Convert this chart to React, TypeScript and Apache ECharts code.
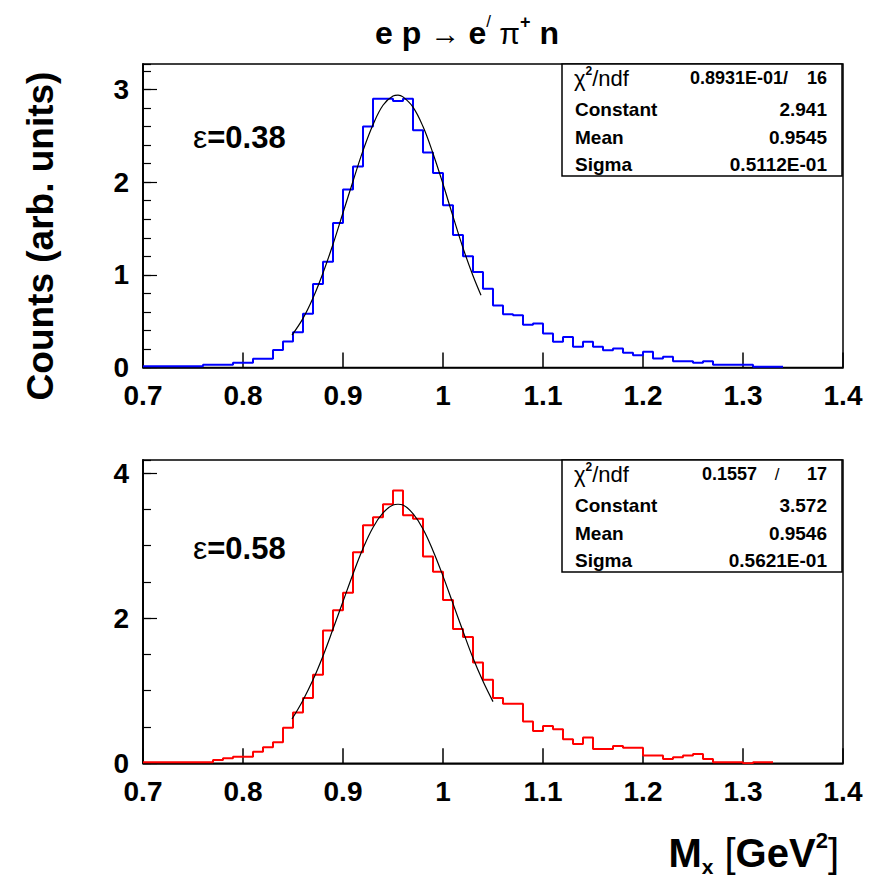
import React, { useEffect, useRef } from 'react';
import * as echarts from 'echarts';

const FONT = '"Liberation Sans", Arial, Helvetica, sans-serif';

// histogram bins: width 0.01 starting at 0.70
const BIN_START = 0.7;
const BIN_WIDTH = 0.01;

// epsilon = 0.38 (blue), bins 0.70 ... 1.33
const topCounts = [
  0.014, 0.014, 0.014, 0.014, 0.014, 0.014, 0.03, 0.03, 0.03, 0.05,
  0.05, 0.095, 0.095, 0.19, 0.28, 0.38, 0.58, 0.9, 1.14, 1.56,
  1.92, 2.17, 2.6, 2.9, 2.9, 2.875, 2.9, 2.56, 2.32, 2.1,
  1.75, 1.43, 1.2, 1.03, 0.85, 0.67, 0.575, 0.565, 0.46, 0.475,
  0.367, 0.277, 0.33, 0.223, 0.277, 0.223, 0.187, 0.205, 0.158, 0.133,
  0.169, 0.097, 0.115, 0.068, 0.068, 0.05, 0.068, 0.029, 0.029, 0.029,
  0.029, 0.007, 0.007, 0.007,
];

// epsilon = 0.58 (red), bins 0.70 ... 1.32
const bottomCounts = [
  0.014, 0.014, 0.014, 0.014, 0.014, 0.014, 0.014, 0.046, 0.07, 0.09,
  0.09, 0.16, 0.22, 0.29, 0.49, 0.7, 0.9, 1.22, 1.83, 2.11,
  2.35, 2.91, 3.28, 3.39, 3.57, 3.76, 3.42, 3.37, 2.85, 2.64,
  2.25, 1.85, 1.74, 1.39, 1.15, 0.9, 0.82, 0.82, 0.575, 0.446,
  0.515, 0.47, 0.33, 0.267, 0.354, 0.198, 0.198, 0.239, 0.216, 0.216,
  0.106, 0.106, 0.06, 0.083, 0.106, 0.129, 0.06, 0.014, 0.014, 0.014,
  0, 0.014, 0.014,
];

// fitted curves
const topFitX = [0.849, 0.86, 0.87, 0.88, 0.89, 0.9, 0.91, 0.92, 0.93, 0.94, 0.95, 0.955, 0.96, 0.97, 0.98, 0.99, 1.0, 1.01, 1.02, 1.03, 1.038];
const topFitY = [0.35, 0.53, 0.75, 1.02, 1.33, 1.67, 2.01, 2.34, 2.62, 2.83, 2.93, 2.94, 2.92, 2.81, 2.6, 2.31, 1.98, 1.63, 1.29, 0.99, 0.78];
const bottomFitX = [0.849, 0.86, 0.87, 0.88, 0.89, 0.9, 0.91, 0.92, 0.93, 0.94, 0.95, 0.955, 0.96, 0.97, 0.98, 0.99, 1.0, 1.01, 1.02, 1.03, 1.04, 1.05];
const bottomFitY = [0.61, 0.87, 1.15, 1.48, 1.85, 2.23, 2.61, 2.96, 3.25, 3.45, 3.56, 3.57, 3.56, 3.44, 3.23, 2.93, 2.58, 2.2, 1.82, 1.45, 1.13, 0.85];

const topStats = [
  ['Constant', '2.941'],
  ['Mean', '0.9545'],
  ['Sigma', '0.5112E-01'],
];
const bottomStats = [
  ['Constant', '3.572'],
  ['Mean', '0.9546'],
  ['Sigma', '0.5621E-01'],
];

function histData(counts: number[]) {
  const d: number[][] = counts.map((v, i) => [Number((BIN_START + i * BIN_WIDTH).toFixed(3)), v]);
  d.push([Number((BIN_START + counts.length * BIN_WIDTH).toFixed(3)), counts[counts.length - 1]]);
  return d;
}

function zip(xs: number[], ys: number[]) {
  return xs.map((x, i) => [x, ys[i]]);
}

function makeX(gridIndex: number) {
  return {
    type: 'value', gridIndex, min: 0.7, max: 1.4, interval: 0.1,
    axisLine: { show: true, lineStyle: { color: '#000', width: 1.5 } },
    axisTick: { show: true, inside: true, length: 15, lineStyle: { color: '#000', width: 1.5 } },
    axisLabel: { show: true, color: '#000', fontFamily: FONT, fontWeight: 'bold', fontSize: 28, margin: 14, showMinLabel: true, showMaxLabel: true },
    splitLine: { show: false },
  };
}

function makeY(gridIndex: number, max: number, interval: number, len: number, labels: boolean) {
  return {
    type: 'value', gridIndex, min: 0, max, interval, position: 'left',
    axisLine: { show: true, onZero: false, lineStyle: { color: '#000', width: 1.5 } },
    axisTick: { show: true, inside: true, length: len, lineStyle: { color: '#000', width: 1.2 } },
    axisLabel: { show: labels, color: '#000', fontFamily: FONT, fontWeight: 'bold', fontSize: 28, margin: 14, showMaxLabel: false, showMinLabel: true },
    splitLine: { show: false },
  };
}

function statBox(top: number, chiVal: string, ndfSlash: string, ndf: string, rows: string[][]) {
  const left = 562;
  const right = 842;
  const h = 112;
  const F = `bold 19px ${FONT}`;
  const els: any[] = [
    { type: 'rect', shape: { x: left, y: top, width: right - left, height: h }, style: { fill: '#fff', stroke: '#000', lineWidth: 1.5 }, z: 10 },
    {
      type: 'text', x: 574, y: top + 14, z: 11,
      style: {
        text: '{r|χ}{s|2}{r|/ndf}', textVerticalAlign: 'middle', fill: '#000',
        rich: {
          r: { fontFamily: FONT, fontSize: 22, fill: '#000', verticalAlign: 'middle', lineHeight: 26 },
          s: { fontFamily: FONT, fontSize: 12, fontWeight: 'bold', fill: '#000', verticalAlign: 'top', lineHeight: 26 },
        },
      },
    },
    { type: 'text', x: ndfSlash === '/' ? 757 : 788, y: top + 14, z: 11, style: { text: chiVal, font: `bold 18px ${FONT}`, fill: '#000', textAlign: 'right', textVerticalAlign: 'middle' } },
    { type: 'text', x: 827, y: top + 14, z: 11, style: { text: ndf, font: `bold 18px ${FONT}`, fill: '#000', textAlign: 'right', textVerticalAlign: 'middle' } },
  ];
  if (ndfSlash === '/') {
    els.push({ type: 'text', x: 777, y: top + 14, z: 11, style: { text: '/', font: `17px ${FONT}`, fill: '#000', textAlign: 'center', textVerticalAlign: 'middle' } });
  }
  const ys = [top + 45, top + 73, top + 100];
  rows.forEach((r, i) => {
    els.push({ type: 'text', x: 575, y: ys[i], z: 11, style: { text: r[0], font: F, fill: '#000', textAlign: 'left', textVerticalAlign: 'middle' } });
    els.push({ type: 'text', x: 827, y: ys[i], z: 11, style: { text: r[1], font: F, fill: '#000', textAlign: 'right', textVerticalAlign: 'middle' } });
  });
  return els;
}

function epsLabel(y: number, val: string) {
  return {
    type: 'text', x: 193, y, z: 11,
    style: {
      text: `{r|ε}{b|=${val}}`, textVerticalAlign: 'middle', fill: '#000',
      rich: {
        r: { fontFamily: FONT, fontSize: 32, fill: '#000', lineHeight: 36 },
        b: { fontFamily: FONT, fontSize: 31, fontWeight: 'bold', fill: '#000', lineHeight: 36 },
      },
    },
  };
}

export default function App() {
  const ref = useRef<HTMLDivElement>(null);
  useEffect(() => {
    document.body.style.margin = '0';
    if (!ref.current) return;
    const chart = echarts.init(ref.current, null, { renderer: 'svg' });
    const option: any = {
      animation: false,
      backgroundColor: '#fff',
      grid: [
        { left: 143, top: 64, width: 700, height: 303.5, show: true, borderColor: '#000', borderWidth: 1.5, backgroundColor: 'transparent' },
        { left: 143, top: 460, width: 700, height: 303.3, show: true, borderColor: '#000', borderWidth: 1.5, backgroundColor: 'transparent' },
      ],
      xAxis: [makeX(0), makeX(1)],
      yAxis: [
        makeY(0, 3.275, 1, 14, true),
        makeY(0, 3.275, 0.2, 8, false),
        makeY(1, 4.18, 2, 14, true),
        makeY(1, 4.18, 0.5, 8, false),
      ],
      series: [
        { type: 'line', xAxisIndex: 0, yAxisIndex: 0, step: 'end', symbol: 'none', data: histData(topCounts), lineStyle: { color: '#0000ff', width: 2 }, z: 3 },
        { type: 'line', xAxisIndex: 0, yAxisIndex: 0, smooth: 0.4, symbol: 'none', data: zip(topFitX, topFitY), lineStyle: { color: '#000', width: 1.2 }, z: 4 },
        { type: 'line', xAxisIndex: 1, yAxisIndex: 2, step: 'end', symbol: 'none', data: histData(bottomCounts), lineStyle: { color: '#ff0000', width: 2 }, z: 3 },
        { type: 'line', xAxisIndex: 1, yAxisIndex: 2, smooth: 0.4, symbol: 'none', data: zip(bottomFitX, bottomFitY), lineStyle: { color: '#000', width: 1.2 }, z: 4 },
      ],
      graphic: [
        {
          type: 'text', x: 467, y: 33,
          style: {
            text: '{b|e p }{r|→ }{b|e}{p|/}{r| π}{s|+}{b| n}', textAlign: 'center', textVerticalAlign: 'middle', fill: '#000',
            rich: {
              b: { fontFamily: FONT, fontSize: 32, fontWeight: 'bold', fill: '#000', lineHeight: 40 },
              r: { fontFamily: FONT, fontSize: 30, fill: '#000', lineHeight: 40 },
              p: { fontFamily: FONT, fontSize: 17, fill: '#000', lineHeight: 40, verticalAlign: 'top' },
              s: { fontFamily: FONT, fontSize: 18, fontWeight: 'bold', fill: '#000', lineHeight: 40, verticalAlign: 'top' },
            },
          },
        },
        {
          type: 'text', x: 40, y: 236, rotation: Math.PI / 2,
          style: { text: 'Counts (arb. units)', font: `bold 37px ${FONT}`, fill: '#000', textAlign: 'center', textVerticalAlign: 'middle' },
        },
        {
          type: 'text', x: 839, y: 853,
          style: {
            text: '{b|M}{x|x}{r| [}{b|GeV}{s|2}{r|]}', textAlign: 'right', textVerticalAlign: 'middle', fill: '#000',
            rich: {
              b: { fontFamily: FONT, fontSize: 40, fontWeight: 'bold', fill: '#000', lineHeight: 48 },
              r: { fontFamily: FONT, fontSize: 40, fill: '#000', lineHeight: 48 },
              x: { fontFamily: FONT, fontSize: 21, fontWeight: 'bold', fill: '#000', lineHeight: 48, verticalAlign: 'bottom' },
              s: { fontFamily: FONT, fontSize: 22, fontWeight: 'bold', fill: '#000', lineHeight: 48, verticalAlign: 'top' },
            },
          },
        },
        epsLabel(137, '0.38'),
        epsLabel(548, '0.58'),
        ...statBox(64, '0.8931E-01/', '', '16', topStats),
        ...statBox(460, '0.1557', '/', '17', bottomStats),
      ],
    };
    chart.setOption(option);
    return () => chart.dispose();
  }, []);
  return <div ref={ref} style={{ width: 871, height: 880 }} />;
}
